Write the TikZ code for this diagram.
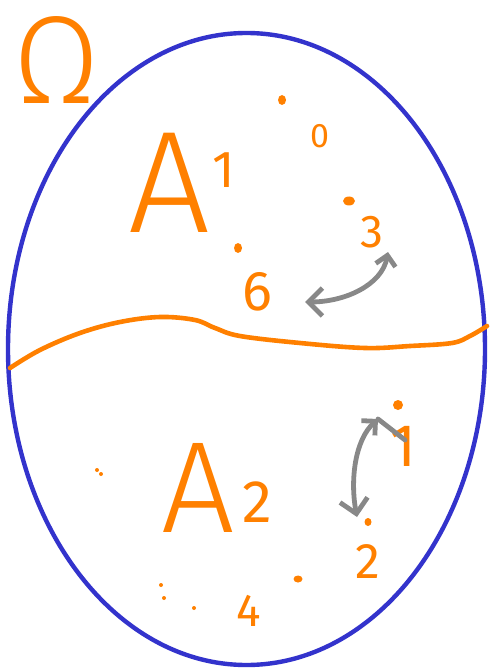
\documentclass[tikz,border=0pt]{standalone}
\usepackage{fontspec}
\usepackage{tikz}
\usetikzlibrary{arrows.meta,positioning,calc}
\newfontfamily\handfont{Fira Sans}[UprightFont={* Light}]
\newfontfamily\handreg{Fira Sans}
\definecolor{setblue}{HTML}{3333CC}
\definecolor{penorange}{HTML}{FF8000}
\definecolor{pengray}{HTML}{888888}

\begin{document}
\begin{tikzpicture}[
    x=1pt,y=-1pt,
    omega/.style={draw=setblue,line width=4.4pt},
    cut/.style={draw=penorange,line width=4.6pt,line cap=round,line join=round},
    swap/.style={draw=pengray,line width=4.8pt,line cap=round,
      {Straight Barb[length=10pt,width=20pt,line width=4.8pt]}-{Straight Barb[length=14pt,width=28pt,line width=4.8pt]}},
    setname/.style={text=penorange,inner sep=0pt,anchor=base west},
    outcome/.style={text=penorange,inner sep=0pt},
    dot/.style={fill=penorange}
  ]
    \useasboundingbox (0,0) rectangle (489,668);

    % sample space and its partition
    \draw[omega] (246.5,349) ellipse [x radius=238.5,y radius=316];
    \node[text=penorange,inner sep=0pt,font=\handfont\fontsize{125}{125}\selectfont]
      (om) at (57,60) {Ω};
    \draw[cut] plot[smooth,tension=0.6] coordinates {(10,368) (40,350) (80,333)
      (120,322) (160,317) (195,320) (215,328) (240,336) (300,343) (365,348)
      (410,346) (452,343) (470,336) (487,326)};

    % event A1 with outcomes 0, 3, 6
    \node[setname,font=\handfont\fontsize{145}{145}\selectfont] (a1) at (128,232)
      {A\hspace{2pt}\raisebox{44pt}{\handreg\fontsize{52}{52}\selectfont 1}};
    \node[outcome,font=\handreg\fontsize{34}{34}\selectfont] (o0) at (320,136) {0};
    \node[outcome,font=\handreg\fontsize{46}{46}\selectfont] (o3) at (372,232) {3};
    \node[outcome,font=\handreg\fontsize{56}{56}\selectfont] (o6) at (257,292) {6};
    \fill[dot] (282,100) ellipse [x radius=4,y radius=5];
    \fill[dot] (349,201) ellipse [x radius=6,y radius=4.5];
    \fill[dot] (238,248) ellipse [x radius=4,y radius=5];
    \coordinate (s3) at (388,252);
    \coordinate (s6) at (305,302);
    \draw[swap] (s3) .. controls (382,285) and (345,302) .. (s6);

    % event A2 with outcomes 1, 2, 4
    \node[setname,font=\handfont\fontsize{130}{130}\selectfont] (a2) at (161,532)
      {A\hspace{8pt}\raisebox{10pt}{\handreg\fontsize{60}{60}\selectfont 2}};
    \node[outcome,font=\handreg\fontsize{60}{60}\selectfont] (o1) at (403,446) {1};
    \node[outcome,font=\handreg\fontsize{50}{50}\selectfont] (o2) at (368,562) {2};
    \node[outcome,font=\handreg\fontsize{46}{46}\selectfont] (o4) at (249,611) {4};
    \fill[dot] (398,405) ellipse [x radius=5,y radius=5];
    \fill[dot] (368,522) ellipse [x radius=3.5,y radius=4];
    \fill[dot] (298,579) ellipse [x radius=4.5,y radius=3.5];
    \foreach \px/\py in {97/470,101/474,161/585,164/598,194/608}
      \fill[dot] (\px,\py) circle (2);
    \coordinate (s1) at (378,419);
    \coordinate (s2) at (357,517);
    \draw[swap] (s1) .. controls (355,440) and (350,480) .. (s2);
    \draw[cut,draw=pengray,line width=4.8pt] (s1) -- (405,440);
  \end{tikzpicture}
\end{document}
